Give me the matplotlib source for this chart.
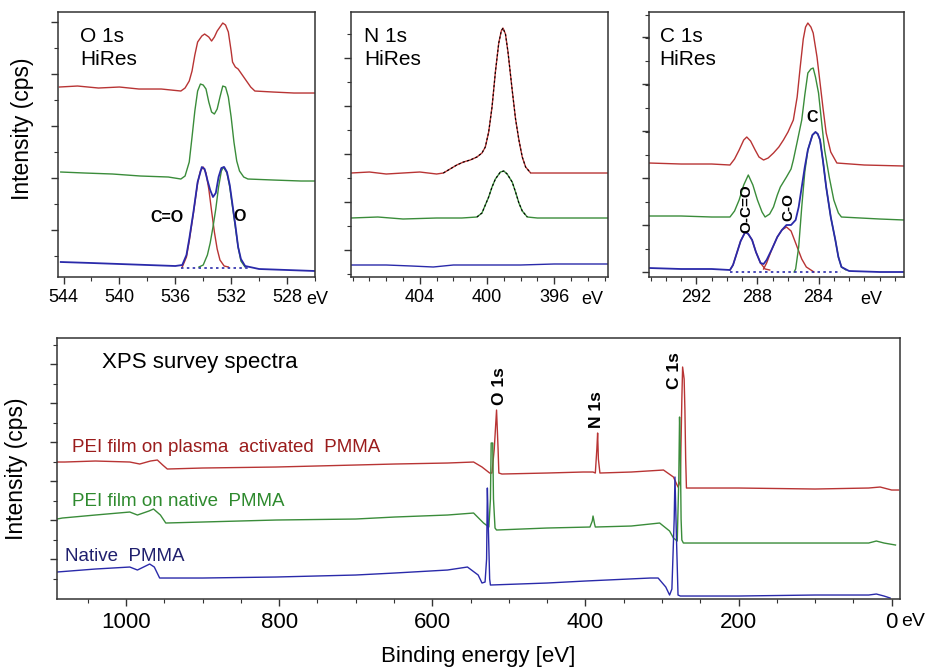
"""XPS high-resolution O1s / N1s / C1s spectra plus survey spectra of PEI films on PMMA."""
import numpy as np
import matplotlib
matplotlib.use("Agg")
import matplotlib.pyplot as plt
from matplotlib.ticker import MultipleLocator

plt.rcParams["font.family"] = ["Liberation Sans", "DejaVu Sans"]

RED, GREEN, BLUE = "#b83434", "#3a8c3a", "#2a2aaa"
RED_TXT, GREEN_TXT, BLUE_TXT = "#9a1c1c", "#2e8a2e", "#20206e"

# ---- O 1s HiRes (binding energy eV, intensity a.u.) ----
o1s_red_x = [544.3, 543.0, 541.5, 540.0, 538.6, 537.0, 535.6, 535.3, 535.0, 534.8, 534.6, 534.4,
             534.1, 533.9, 533.6, 533.4, 533.2, 533.0, 532.8, 532.6, 532.4, 532.2, 532.0, 531.9,
             531.7, 531.5, 531.2, 530.9, 530.6, 530.3, 529.0, 527.5, 526.0]
o1s_red_y = [190, 191, 189, 190, 188, 188, 186, 189, 196, 206, 222, 235,
             241, 243, 240, 236, 240, 246, 250, 254, 252, 245, 226, 215,
             210, 208, 202, 196, 190, 186, 185, 184, 184]
o1s_green_x = [544.2, 542.5, 540.5, 538.5, 536.5, 535.6, 535.3, 535.0, 534.8, 534.6, 534.4, 534.2,
               534.0, 533.8, 533.6, 533.4, 533.2, 533.0, 532.8, 532.6, 532.4, 532.2, 532.0, 531.8,
               531.6, 531.4, 531.1, 530.8, 529.0, 527.0, 526.0]
o1s_green_y = [105, 104, 103, 101, 100, 98, 101, 115, 140, 166, 186, 193,
               192, 188, 175, 165, 163, 168, 180, 191, 190, 180, 160, 135,
               116, 106, 100, 98, 97, 96, 96]
o1s_blue_x = [544.2, 542.0, 540.0, 538.0, 536.0, 535.5, 535.2, 535.0, 534.7, 534.4, 534.1, 533.9,
              533.7, 533.5, 533.3, 533.1, 532.9, 532.7, 532.5, 532.3, 532.1, 531.9, 531.7, 531.5,
              531.3, 531.0, 530.0, 528.0, 526.0]
o1s_blue_y = [15, 14, 13, 12, 11, 12, 22, 38, 65, 95, 110, 108,
              97, 87, 80, 84, 100, 109, 110, 105, 92, 72, 52, 30,
              18, 11, 8, 7, 6]
o1s_co_x = [535.5, 535.2, 535.0, 534.7, 534.4, 534.2, 534.0, 533.8, 533.6, 533.4, 533.2, 533.0,
            532.8, 532.5, 532.2]
o1s_co_y = [10, 20, 36, 64, 94, 106, 110, 104, 88, 66, 45, 28, 17, 11, 10]
o1s_o_x = [534.3, 534.0, 533.7, 533.5, 533.3, 533.1, 532.9, 532.7, 532.55, 532.3, 532.1, 531.9,
           531.7, 531.5, 531.3, 531.0]
o1s_o_y = [10, 12, 22, 34, 50, 68, 90, 106, 110, 104, 90, 70, 50, 30, 16, 10]
o1s_base_x, o1s_base_y = [535.6, 530.8], [9, 9]

# ---- N 1s HiRes ----
n1s_red_x = [408.1, 407.0, 406.0, 405.0, 404.0, 403.0, 402.6, 402.2, 401.8, 401.4, 401.0, 400.6,
             400.3, 400.1, 399.9, 399.7, 399.5, 399.3, 399.15, 399.05, 398.9, 398.75, 398.5, 398.3,
             398.1, 397.9, 397.7, 397.4, 396.0, 394.5, 392.8]
n1s_red_y = [104, 105, 103, 104, 105, 103, 104, 108, 112, 115, 117, 120,
             124, 130, 145, 170, 205, 234, 246, 249, 243, 225, 187, 158,
             137, 120, 110, 104, 104, 104, 104]
n1s_green_x = [408.1, 406.5, 405.0, 403.0, 401.5, 400.6, 400.3, 400.1, 399.9, 399.7, 399.5, 399.2,
               399.0, 398.8, 398.5, 398.3, 398.1, 397.9, 397.6, 397.0, 395.0, 392.8]
n1s_green_y = [59, 60, 58, 59, 59, 60, 64, 72, 80, 90, 98, 105,
               106, 103, 95, 85, 74, 66, 60, 59, 59, 59]
n1s_blue_x = [408.1, 406.0, 404.5, 403.2, 402.0, 400.0, 398.0, 396.0, 394.0, 392.8]
n1s_blue_y = [12, 12, 11, 10, 12, 12, 12, 13, 13, 13]

# ---- C 1s HiRes ----
c1s_red_x = [295.1, 293.0, 291.0, 289.8, 289.5, 289.2, 288.9, 288.7, 288.45, 288.15, 287.9, 287.6,
             287.3, 286.95, 286.6, 286.3, 286.0, 285.65, 285.4, 285.2, 285.0, 284.85, 284.7, 284.5,
             284.35, 284.1, 283.9, 283.7, 283.5, 283.2, 282.8, 281.0, 278.4]
c1s_red_y = [114, 113, 113, 112, 118, 127, 137, 140, 136, 127, 120, 117,
             119, 124, 130, 137, 145, 157, 180, 210, 238, 250, 254, 250,
             244, 220, 194, 168, 144, 125, 114, 112, 111]
c1s_green_x = [295.1, 293.0, 291.0, 289.8, 289.5, 289.2, 288.9, 288.6, 288.3, 288.0, 287.7, 287.5,
               287.2, 286.95, 286.7, 286.5, 286.1, 285.8, 285.65, 285.4, 285.1, 284.9, 284.7, 284.5,
               284.35, 284.2, 284.0, 283.8, 283.6, 283.3, 283.0, 282.7, 282.5, 280.0, 278.4]
c1s_green_y = [61, 61, 60, 60, 66, 77, 92, 102, 92, 77, 65, 60,
               63, 70, 82, 90, 100, 108, 117, 135, 157, 182, 204, 208,
               209, 200, 184, 155, 127, 100, 77, 64, 60, 58, 57]
c1s_blue_x = [295.1, 293.0, 291.0, 289.8, 289.6, 289.35, 289.1, 288.8, 288.6, 288.35, 288.1, 287.8,
              287.6, 287.4, 287.05, 286.7, 286.4, 286.1, 285.8, 285.5, 285.3, 285.1, 284.9, 284.7,
              284.4, 284.2, 284.05, 283.9, 283.7, 283.5, 283.2, 282.9, 282.7, 282.5, 282.0, 280.0, 278.4]
c1s_blue_y = [9, 8, 8, 7, 12, 24, 36, 45, 43, 37, 25, 14,
              13, 17, 28, 40, 47, 52, 52, 57, 70, 90, 110, 127,
              142, 145, 143, 137, 115, 90, 60, 37, 20, 10, 6, 5, 5]
c1s_occo_x = [289.8, 289.6, 289.35, 289.1, 288.8, 288.6, 288.35, 288.1, 287.8, 287.5, 287.2]
c1s_occo_y = [7, 12, 24, 36, 45, 43, 37, 25, 14, 8, 7]
c1s_co_x = [287.6, 287.4, 287.05, 286.7, 286.4, 286.1, 285.8, 285.6, 285.4, 285.1, 284.8, 284.3]
c1s_co_y = [8, 14, 28, 40, 47, 50, 46, 38, 30, 18, 10, 5]
c1s_c_x = [285.6, 285.5, 285.3, 285.1, 284.9, 284.7, 284.4, 284.2, 284.05, 283.9, 283.7, 283.5,
           283.2, 282.9, 282.7, 282.5, 282.2]
c1s_c_y = [5, 8, 30, 70, 105, 127, 142, 145, 143, 137, 115, 90, 60, 37, 20, 10, 7]
c1s_base_x, c1s_base_y = [289.8, 282.5], [5, 5]

# ---- survey spectra ----
sv_red_x = [1090, 1080, 1040, 995, 982, 968, 959, 952, 946, 900, 804, 700, 649, 580, 546, 535, 525,
            522, 519, 516, 514, 513, 509, 450, 403, 390, 387, 385, 384, 383, 381, 340, 298, 285,
            279, 276, 274, 273, 271, 270, 269, 268, 200, 100, 30, 15, 0, -9]
sv_red_y = [137, 137, 138, 137, 135, 138, 139, 134, 130, 131, 132, 134, 135, 136, 137, 132, 126,
            126, 150, 189, 150, 126, 125, 126, 127, 127, 126, 150, 166, 140, 126, 127, 129, 122,
            112, 118, 200, 232, 220, 189, 140, 111, 111, 110, 111, 112, 109, 109]
sv_green_x = [1090, 1083, 1040, 995, 985, 970, 964, 955, 948, 900, 804, 700, 649, 580, 546, 533,
              526, 524, 523, 521, 520, 518, 516, 450, 394, 391, 390, 388, 387, 340, 303, 290, 285,
              280, 278, 277, 276, 275, 274, 272, 200, 100, 30, 20, 10, -5]
sv_green_y = [80, 81, 84, 87, 84, 88, 90, 84, 76, 77, 79, 80, 82, 84, 86, 76,
              72, 100, 156, 156, 100, 71, 69, 71, 72, 78, 83, 75, 72, 73, 76, 68, 61,
              58, 120, 182, 150, 80, 59, 56, 56, 56, 56, 58, 56, 54]
sv_blue_x = [1090, 1040, 995, 985, 969, 963, 956, 900, 804, 700, 649, 580, 554, 540, 535, 531,
             529, 528, 527, 525, 524, 450, 400, 315, 305, 295, 290, 287, 284, 283, 281, 279, 276,
             200, 100, 30, 20, 10, 2]
sv_blue_y = [27, 30, 32, 29, 35, 32, 21, 21, 22, 24, 26, 29, 32, 24, 16, 17,
             40, 111, 80, 20, 14, 16, 18, 21, 21, 12, 4, 10, 80, 122, 60, 4, 3,
             3, 4, 4, 5, 3, 1]
sample_labels = ["PEI film on plasma  activated  PMMA", "PEI film on native  PMMA", "Native  PMMA"]

fig = plt.figure(figsize=(9.26, 6.72), dpi=100)
ax_o = fig.add_axes([0.0626, 0.5878, 0.2775, 0.3943])
ax_n = fig.add_axes([0.3790, 0.5878, 0.2775, 0.3943])
ax_c = fig.add_axes([0.7009, 0.5878, 0.2754, 0.3943])
ax_s = fig.add_axes([0.0616, 0.1086, 0.9104, 0.3884])


def frame(ax, labelsize):
    for sp in ax.spines.values():
        sp.set_linewidth(1.1)
        sp.set_color("#333333")
    ax.tick_params(which="both", direction="out", top=False, right=False,
                   color="#333333", labelsize=labelsize, pad=4)
    ax.tick_params(which="major", length=5, width=1)
    ax.tick_params(which="minor", length=3, width=0.8)
    ax.set_yticklabels([])


lw = 1.0
# O 1s
ax_o.plot(o1s_red_x, o1s_red_y, color=RED, lw=lw)
ax_o.plot(o1s_green_x, o1s_green_y, color=GREEN, lw=lw)
ax_o.plot(o1s_co_x, o1s_co_y, color=RED, lw=lw)
ax_o.plot(o1s_o_x, o1s_o_y, color=GREEN, lw=lw)
ax_o.plot(o1s_base_x, o1s_base_y, color=BLUE, lw=1.2, ls=(0, (1.5, 2)))
ax_o.plot(o1s_blue_x, o1s_blue_y, color=BLUE, lw=1.3)
ax_o.set_xlim(544.4, 526.0)
ax_o.set_xticks([544, 540, 536, 532, 528])
ax_o.xaxis.set_minor_locator(MultipleLocator(2))
ax_o.set_yticks(np.arange(47, 265, 52))
ax_o.set_yticks(np.arange(21, 265, 26), minor=True)
ax_o.set_ylim(0, 265)
frame(ax_o, 13)
ax_o.set_ylabel("Intensity (cps)", fontsize=16.5)
ax_o.yaxis.set_label_coords(-0.095, 0.56)
ax_o.text(542.8, 250, "O 1s\nHiRes", fontsize=15, va="top", ha="left", linespacing=1.25)
ax_o.text(536.6, 60, "C=O", fontsize=11.5, fontweight="bold", ha="center", va="center")
ax_o.text(531.4, 61, "O", fontsize=11.5, fontweight="bold", ha="center", va="center")

# N 1s
ax_n.plot(n1s_red_x, n1s_red_y, color=RED, lw=lw)
ax_n.plot(n1s_red_x[6:28], n1s_red_y[6:28], color="black", lw=0.8, ls=(0, (2, 2)))
ax_n.plot(n1s_green_x, n1s_green_y, color=GREEN, lw=lw)
ax_n.plot(n1s_green_x[5:19], n1s_green_y[5:19], color="black", lw=0.8, ls=(0, (2, 2)))
ax_n.plot(n1s_blue_x, n1s_blue_y, color=BLUE, lw=lw)
ax_n.set_xlim(408.1, 392.8)
ax_n.set_xticks([404, 400, 396])
ax_n.xaxis.set_minor_locator(MultipleLocator(1))
ax_n.set_yticks(np.arange(27, 265, 48))
ax_n.set_yticks(np.arange(3, 265, 24), minor=True)
ax_n.set_ylim(0, 265)
frame(ax_n, 13)
ax_n.text(407.3, 250, "N 1s\nHiRes", fontsize=15, va="top", ha="left", linespacing=1.25)

# C 1s
ax_c.plot(c1s_red_x, c1s_red_y, color=RED, lw=lw)
ax_c.plot(c1s_green_x, c1s_green_y, color=GREEN, lw=lw)
ax_c.plot(c1s_occo_x, c1s_occo_y, color=RED, lw=lw)
ax_c.plot(c1s_co_x, c1s_co_y, color=RED, lw=lw)
ax_c.plot(c1s_c_x, c1s_c_y, color=GREEN, lw=lw)
ax_c.plot(c1s_base_x, c1s_base_y, color=BLUE, lw=1.2, ls=(0, (1.5, 2)))
ax_c.plot(c1s_blue_x, c1s_blue_y, color=BLUE, lw=1.3)
ax_c.set_xlim(295.1, 278.4)
ax_c.set_xticks([292, 288, 284])
ax_c.xaxis.set_minor_locator(MultipleLocator(1))
ax_c.set_yticks(np.arange(5, 265, 47))
ax_c.set_yticks(np.arange(5, 265, 23.4), minor=True)
ax_c.set_ylim(0, 265)
frame(ax_c, 13)
ax_c.text(294.4, 250, "C 1s\nHiRes", fontsize=15, va="top", ha="left", linespacing=1.25)
ax_c.text(288.75, 68, "O-C=O", fontsize=11, fontweight="bold", rotation=90, ha="center", va="center")
ax_c.text(286.0, 70, "C-O", fontsize=11, fontweight="bold", rotation=90, ha="center", va="center")
ax_c.text(284.4, 160, "C", fontsize=11.5, fontweight="bold", ha="center", va="center")

for ax, xe in [(ax_o, 526.6), (ax_n, 394.4), (ax_c, 281.3)]:
    ax.annotate("eV", xy=(xe, 0), xycoords=("data", "axes fraction"), xytext=(0, -10),
                textcoords="offset points", ha="left", va="top", fontsize=13,
                annotation_clip=False)

# survey
ax_s.plot(sv_red_x, sv_red_y, color=RED, lw=lw)
ax_s.plot(sv_green_x, sv_green_y, color=GREEN, lw=lw)
ax_s.plot(sv_blue_x, sv_blue_y, color=BLUE, lw=lw)
ax_s.set_xlim(1090, -11)
ax_s.set_xticks([1000, 800, 600, 400, 200, 0])
ax_s.xaxis.set_minor_locator(MultipleLocator(50))
ax_s.set_yticks(np.arange(40, 261, 39))
ax_s.set_yticks(np.arange(20.5, 261, 19.5), minor=True)
ax_s.set_ylim(0, 261)
frame(ax_s, 16)
ax_s.set_ylabel("Intensity (cps)", fontsize=16.5, labelpad=12)
ax_s.set_xlabel("Binding energy [eV]", fontsize=16, labelpad=10)
ax_s.annotate("eV", xy=(-13, 0), xycoords=("data", "axes fraction"), xytext=(0, -10),
              textcoords="offset points", ha="left", va="top", fontsize=14,
              annotation_clip=False)
ax_s.text(1031, 237, "XPS survey spectra", fontsize=16, va="center", ha="left")
for lab, (x, y), c in zip(sample_labels, [(1070, 152), (1070, 98), (1079, 43)],
                          [RED_TXT, GREEN_TXT, BLUE_TXT]):
    ax_s.text(x, y, lab, color=c, fontsize=13.5, va="center", ha="left")
for lab, x, y in [("O 1s", 512, 213), ("N 1s", 385, 189), ("C 1s", 283, 228)]:
    ax_s.text(x, y, lab, fontsize=12.5, fontweight="bold", rotation=90, ha="center", va="center")

fig.savefig("out.png", dpi=100)
print("saved out.png")
